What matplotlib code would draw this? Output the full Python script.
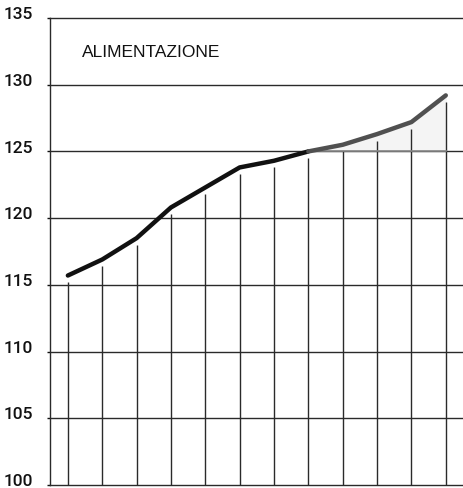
import matplotlib.pyplot as plt
from matplotlib.transforms import ScaledTranslation
import numpy as np

plt.rcParams['font.family'] = ['Liberation Sans', 'DejaVu Sans']

# index values, 12 periods
periods = np.arange(12)
values = [115.7, 116.9, 118.5, 120.8, 122.3, 123.8, 124.3, 125.0, 125.5, 126.3, 127.2, 129.2]
y_ticks = [100, 105, 110, 115, 120, 125, 130, 135]
title = "ALIMENTAZIONE"
split = 7  # from here on the line is drawn in grey (estimate)

fig = plt.figure(figsize=(4.64, 4.88), dpi=100)
ax = fig.add_axes([50 / 464, 3 / 488, 1 - 50 / 464 + 0.02, 467 / 488])

vals = np.array(values)

# faint shaded block behind the estimated part
ax.fill_between(periods[split:], 125, vals[split:], color="#f4f4f4", zorder=0)

# horizontal grid
for yv in y_ticks[1:-1]:
    ax.axhline(yv, color="#2a2a2a", lw=1.0, zorder=1)
ax.plot(periods[split:], [125] * len(periods[split:]), color="#8a8a8a", lw=1.2, zorder=1.5)

# drop lines from the bottom up to just below the curve
ax.vlines(periods, 100, vals - 0.5, color="#2a2a2a", lw=1.0, zorder=1)

# index line: black, then grey for the last part
ax.plot(periods[:split + 1], vals[:split + 1], color="#111111", lw=3.2,
        solid_capstyle="round", zorder=3)
ax.plot(periods[split:], vals[split:], color="#505050", lw=3.2,
        solid_capstyle="round", zorder=3)

ax.set_xlim(-0.52, 11.8)
ax.set_ylim(100, 135)
ax.set_yticks(y_ticks)
ax.set_yticklabels([str(t) for t in y_ticks], fontsize=12.5,
                   family=["Roboto", "DejaVu Sans"], fontweight="medium")
ax.set_xticks([])
ax.tick_params(axis="y", length=2, width=1, pad=10, colors="#111111")
# labels sit a little above their grid line
for lbl in ax.get_yticklabels():
    lbl.set_transform(lbl.get_transform() + ScaledTranslation(0, 3.5 / 72, fig.dpi_scale_trans))

for s in ["left", "top", "bottom"]:
    ax.spines[s].set_color("#2a2a2a")
    ax.spines[s].set_linewidth(1.0)
ax.spines["right"].set_visible(False)

ax.text(0.076, 0.927, title, transform=ax.transAxes, fontsize=12.5,
        color="#111111", ha="left", va="center", fontstretch="expanded")

fig.savefig("out.png", dpi=100)
